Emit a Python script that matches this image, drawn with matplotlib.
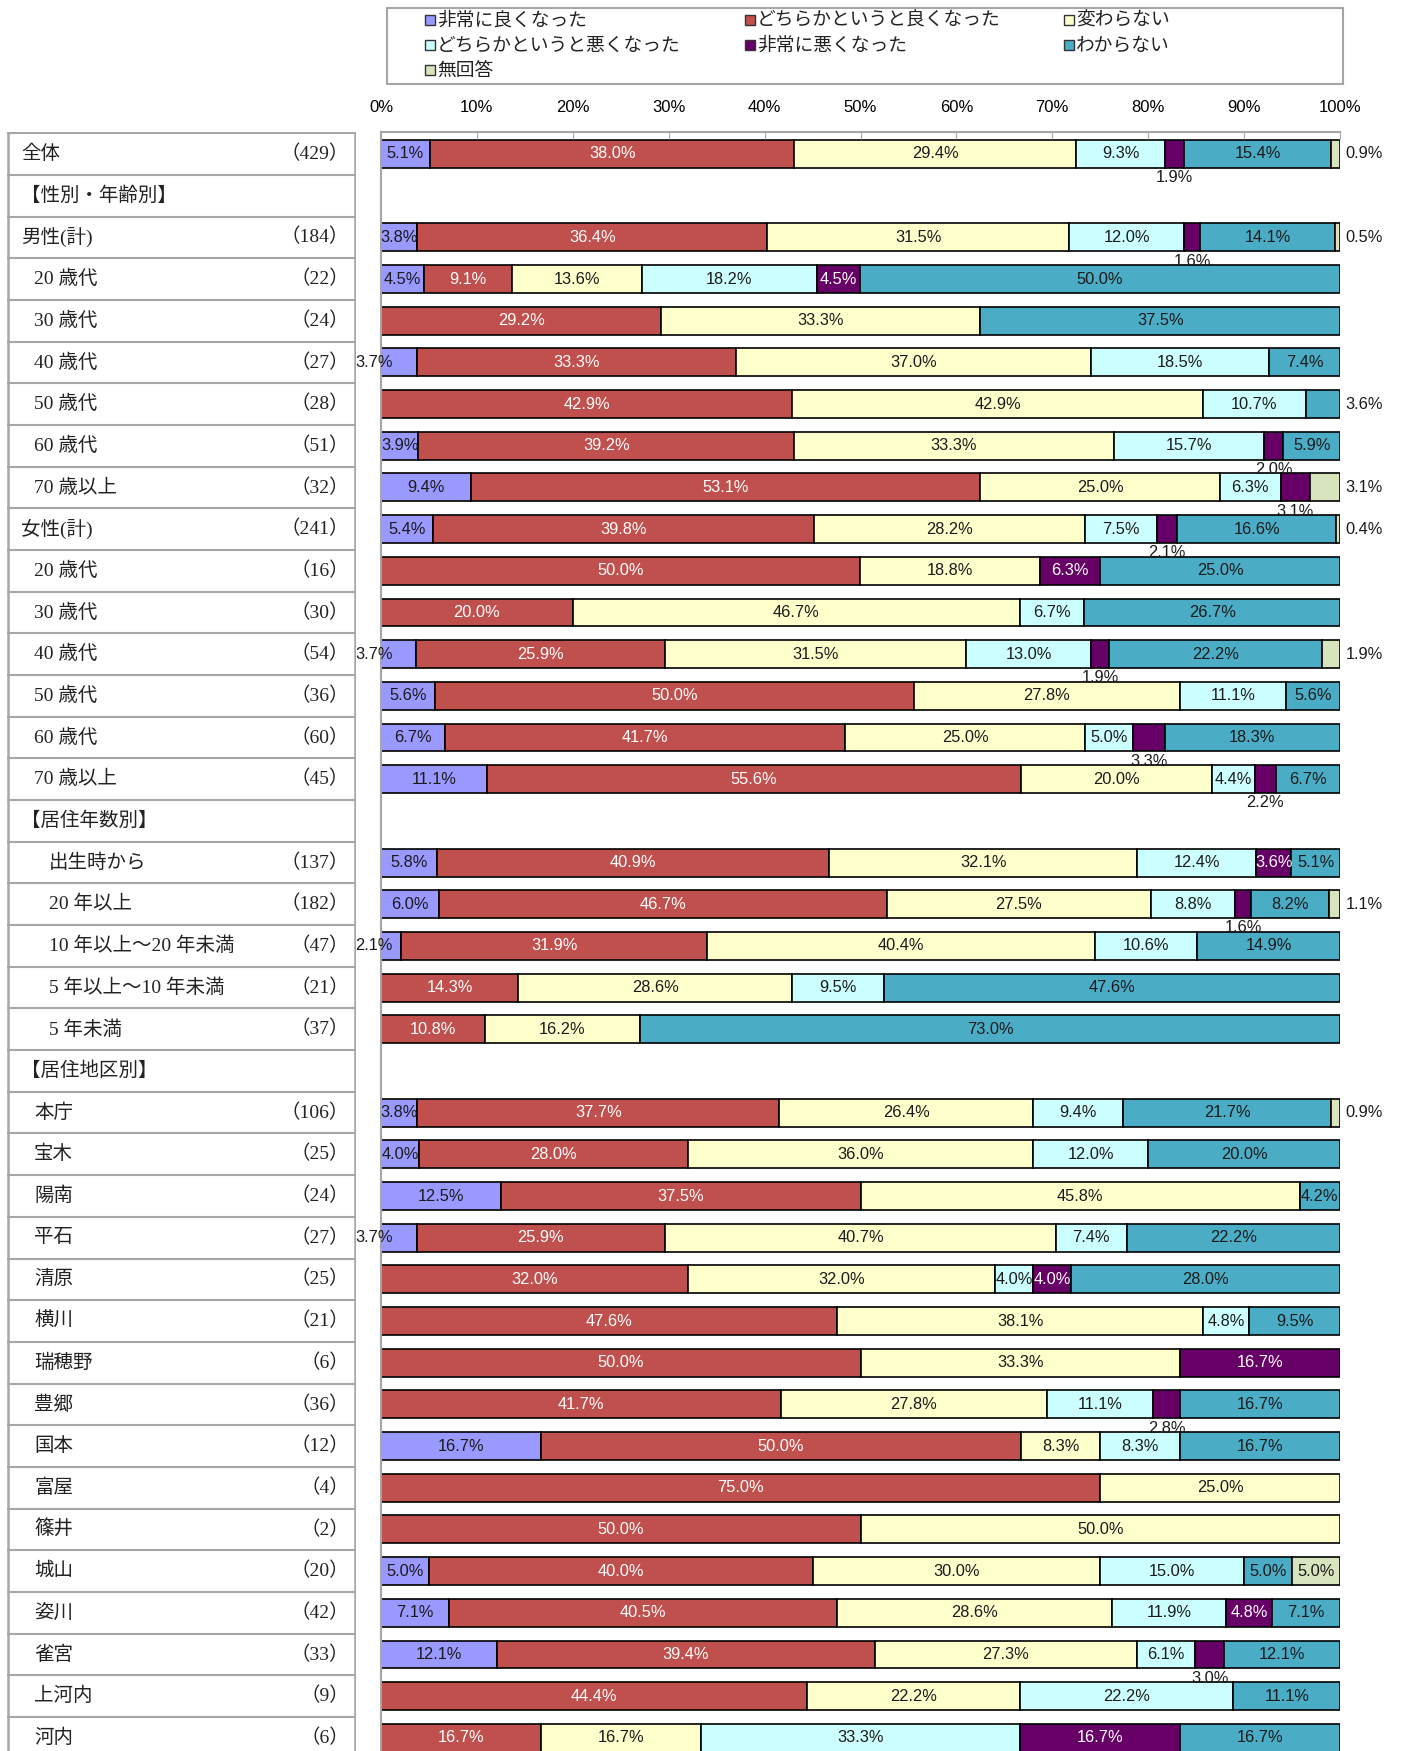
import matplotlib.pyplot as plt
from matplotlib.lines import Line2D
from matplotlib.patches import Rectangle
import numpy as np

# 行ラベル（None = 見出し行）
row_names = ['全体', '【性別・年齢別】', '男性(計)', '20 歳代', '30 歳代', '40 歳代', '50 歳代', '60 歳代', '70 歳以上',
             '女性(計)', '20 歳代', '30 歳代', '40 歳代', '50 歳代', '60 歳代', '70 歳以上',
             '【居住年数別】', '出生時から', '20 年以上', '10 年以上～20 年未満', '5 年以上～10 年未満', '5 年未満',
             '【居住地区別】', '本庁', '宝木', '陽南', '平石', '清原', '横川', '瑞穂野', '豊郷', '国本', '富屋', '篠井',
             '城山', '姿川', '雀宮', '上河内', '河内']
row_n = [429, None, 184, 22, 24, 27, 28, 51, 32, 241, 16, 30, 54, 36, 60, 45,
         None, 137, 182, 47, 21, 37,
         None, 106, 25, 24, 27, 25, 21, 6, 36, 12, 4, 2, 20, 42, 33, 9, 6]
row_level = [0, 0, 0, 1, 1, 1, 1, 1, 1, 0, 1, 1, 1, 1, 1, 1,
             0, 2, 2, 2, 2, 2,
             0, 1, 1, 1, 1, 1, 1, 1, 1, 1, 1, 1, 1, 1, 1, 1, 1]

categories = ['非常に良くなった', 'どちらかというと良くなった', '変わらない', 'どちらかというと悪くなった',
              '非常に悪くなった', 'わからない', '無回答']

very_good = [5.1, None, 3.8, 4.5, 0, 3.7, 0, 3.9, 9.4, 5.4, 0, 0, 3.7, 5.6, 6.7, 11.1,
             None, 5.8, 6.0, 2.1, 0, 0,
             None, 3.8, 4.0, 12.5, 3.7, 0, 0, 0, 0, 16.7, 0, 0, 5.0, 7.1, 12.1, 0, 0]
somewhat_good = [38.0, None, 36.4, 9.1, 29.2, 33.3, 42.9, 39.2, 53.1, 39.8, 50.0, 20.0, 25.9, 50.0, 41.7, 55.6,
                 None, 40.9, 46.7, 31.9, 14.3, 10.8,
                 None, 37.7, 28.0, 37.5, 25.9, 32.0, 47.6, 50.0, 41.7, 50.0, 75.0, 50.0, 40.0, 40.5, 39.4, 44.4, 16.7]
same = [29.4, None, 31.5, 13.6, 33.3, 37.0, 42.9, 33.3, 25.0, 28.2, 18.8, 46.7, 31.5, 27.8, 25.0, 20.0,
        None, 32.1, 27.5, 40.4, 28.6, 16.2,
        None, 26.4, 36.0, 45.8, 40.7, 32.0, 38.1, 33.3, 27.8, 8.3, 25.0, 50.0, 30.0, 28.6, 27.3, 22.2, 16.7]
somewhat_bad = [9.3, None, 12.0, 18.2, 0, 18.5, 10.7, 15.7, 6.3, 7.5, 0, 6.7, 13.0, 11.1, 5.0, 4.4,
                None, 12.4, 8.8, 10.6, 9.5, 0,
                None, 9.4, 12.0, 0, 7.4, 4.0, 4.8, 0, 11.1, 8.3, 0, 0, 15.0, 11.9, 6.1, 22.2, 33.3]
very_bad = [1.9, None, 1.6, 4.5, 0, 0, 0, 2.0, 3.1, 2.1, 6.3, 0, 1.9, 0, 3.3, 2.2,
            None, 3.6, 1.6, 0, 0, 0,
            None, 0, 0, 0, 0, 4.0, 0, 16.7, 2.8, 0, 0, 0, 0, 4.8, 3.0, 0, 16.7]
dont_know = [15.4, None, 14.1, 50.0, 37.5, 7.4, 3.6, 5.9, 0, 16.6, 25.0, 26.7, 22.2, 5.6, 18.3, 6.7,
             None, 5.1, 8.2, 14.9, 47.6, 73.0,
             None, 21.7, 20.0, 4.2, 22.2, 28.0, 9.5, 0, 16.7, 16.7, 0, 0, 5.0, 7.1, 12.1, 11.1, 16.7]
no_answer = [0.9, None, 0.5, 0, 0, 0, 0, 0, 3.1, 0.4, 0, 0, 1.9, 0, 0, 0,
             None, 0, 1.1, 0, 0, 0,
             None, 0.9, 0, 0, 0, 0, 0, 0, 0, 0, 0, 0, 5.0, 0, 0, 0, 0]

series = [very_good, somewhat_good, same, somewhat_bad, very_bad, dont_know, no_answer]
colors = ['#9999FF', '#C0504D', '#FFFFCC', '#CCFFFF', '#660066', '#4BACC6', '#D7E4BD']
txt_colors = ['#1a1a1a', 'white', '#1a1a1a', '#1a1a1a', 'white', '#1a1a1a', '#1a1a1a']

JP = ['Noto Sans CJK JP', 'DejaVu Sans']
TBL = ['Liberation Serif', 'Noto Sans CJK JP']
NUM = ['Liberation Sans', 'DejaVu Sans']
GRAY = '#A6A6A6'
FS = 11.8

W, H = 1401, 1751
fig = plt.figure(figsize=(W / 100, H / 100), dpi=100)

# 行の位置 (ピクセル)
top_px = 132
row0 = 154.0
step = 41.68
ytop = (top_px - row0) / step
ybot = (H - row0) / step

ax = fig.add_axes([381 / W, 0, (1340 - 381) / W, (H - top_px) / H])
ax.set_xlim(0, 100)
ax.set_ylim(ybot, ytop)

nrows = len(row_names)
data = np.array([[np.nan if v is None else v for v in s] for s in series])
totals = np.nansum(data, axis=0)
valid = ~np.isnan(data[0])
scaled = np.where(valid, data / np.where(totals == 0, 1, totals) * 100, 0)
lefts = np.cumsum(scaled, axis=0) - scaled

bar_h = 0.67
for c in range(len(series)):
    idx = [i for i in range(nrows) if valid[i] and data[c, i] > 0]
    ax.barh(idx, scaled[c, idx], left=lefts[c, idx], height=bar_h,
            color=colors[c], edgecolor='black', linewidth=1.2)
    for i in idx:
        v = data[c, i]
        lab = f'{v:.1f}%'
        mid = lefts[c, i] + scaled[c, i] / 2
        if c == 0 and v < 3.75:
            ax.text(1.2, i, lab, ha='right', va='center', fontsize=FS, family=NUM, color='#1a1a1a')
        elif c == 4 and v < 3.5:
            ax.text(mid, i + 0.57, lab, ha='center', va='center', fontsize=FS, family=NUM, color='#1a1a1a')
        elif c in (5, 6) and v < 4:
            ax.text(100.6, i, lab, ha='left', va='center', fontsize=FS, family=NUM, color='#1a1a1a',
                    clip_on=False)
        else:
            ax.text(mid, i, lab, ha='center', va='center', fontsize=FS, family=NUM, color=txt_colors[c])

ax.set_xticks(np.arange(0, 101, 10))
ax.set_xticklabels([f'{t}%' for t in range(0, 101, 10)], family=NUM, fontsize=12)
ax.xaxis.tick_top()
ax.tick_params(axis='x', direction='in', length=5, color=GRAY, pad=12)
ax.set_yticks([])
for s in ['right', 'bottom']:
    ax.spines[s].set_visible(False)
for s in ['top', 'left']:
    ax.spines[s].set_color(GRAY)
    ax.spines[s].set_linewidth(1.5)

# 左の表
tab = fig.add_axes([7 / W, 0, (356 - 7) / W, (H - top_px) / H])
tab.set_xlim(0, 349)
tab.set_ylim(ybot, ytop)
tab.axis('off')
for k in range(nrows + 1):
    tab.axhline(k - 0.5, color=GRAY, lw=1.5)
tab.axvline(1, color=GRAY, lw=1.8)
tab.axvline(348, color=GRAY, lw=1.8)
indent = [14, 27, 42]
for i in range(nrows):
    tab.text(indent[row_level[i]], i, row_names[i], ha='left', va='center', fontsize=14, family=TBL,
             color='#222222')
    if row_n[i] is not None:
        tab.text(342, i, f'（{row_n[i]}）', ha='right', va='center', fontsize=14, family=TBL,
                 color='#222222')

# 凡例
fig.add_artist(Rectangle((387 / W, 1 - 84 / H), (1343 - 387) / W, (84 - 8) / H,
                         transform=fig.transFigure, fill=False, edgecolor=GRAY, lw=1.5))
col_x = [430, 750, 1069]
row_y = [20, 45, 70]
for k, name in enumerate(categories):
    x = col_x[k % 3]
    y = row_y[k // 3]
    fig.add_artist(Line2D([x / W], [1 - y / H], marker='s', markersize=7, markerfacecolor=colors[k],
                          markeredgecolor='#333333', markeredgewidth=1, transform=fig.transFigure))
    fig.text((x + 7) / W, 1 - y / H, name, ha='left', va='center', fontsize=13.5, family=JP,
             color='#222222')

fig.savefig('out.png', dpi=100)
